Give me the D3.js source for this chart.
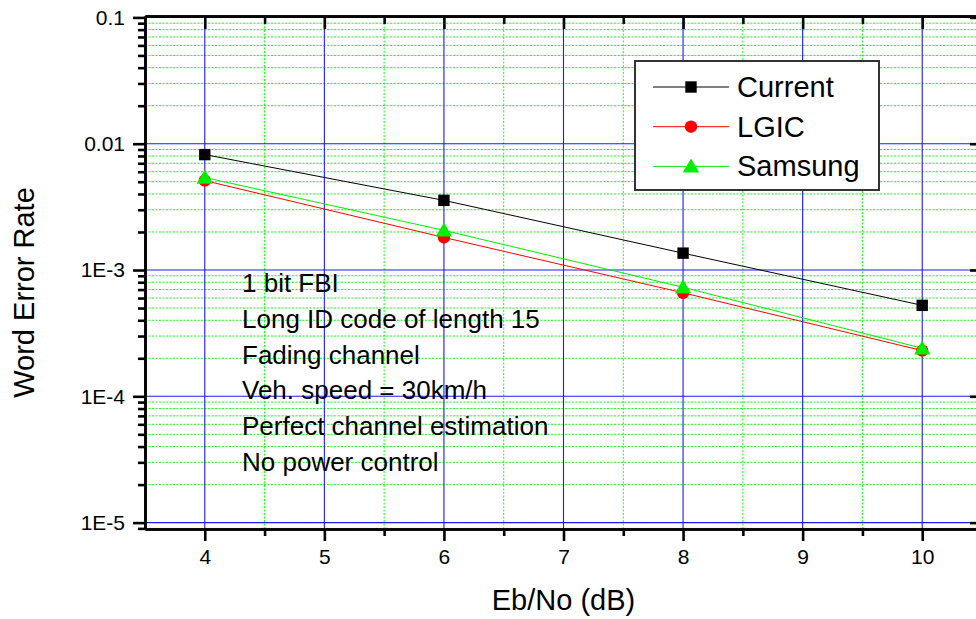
<!DOCTYPE html>
<html>
<head>
<meta charset="utf-8">
<script src="https://cdn.jsdelivr.net/npm/d3@7"></script>
<style>
  body { margin: 0; background: #fff; }
  svg { display: block; font-family: 'Liberation Sans', Arial, sans-serif; }
</style>
</head>
<body>
<svg id="chart" width="976" height="619"></svg>
<script>
// data
const ebno = [4, 6, 8, 10]
const current = [8.2e-3, 3.56e-3, 1.36e-3, 5.25e-4]
const lgic = [5.1e-3, 1.81e-3, 6.6e-4, 2.3e-4]
const samsung = [5.4e-3, 2.06e-3, 7.3e-4, 2.4e-4]
const seriesNames = ['Current', 'LGIC', 'Samsung']
const xTicks = [4, 5, 6, 7, 8, 9, 10]
const xMinorTicks = [4.5, 5.5, 6.5, 7.5, 8.5, 9.5]
const yTicks = [1e-1, 1e-2, 1e-3, 1e-4, 1e-5]
const yTickLabels = ['0.1', '0.01', '1E-3', '1E-4', '1E-5']
const notes = ['1 bit FBI', 'Long ID code of length 15', 'Fading channel',
  'Veh. speed = 30km/h', 'Perfect channel estimation', 'No power control']

const svg = d3.select('#chart')
const plotLeft = 145
const plotRight = 982
const plotTop = 16
const plotBottom = 529

const x = d3.scaleLinear().domain([3.5, 10.5]).range([plotLeft, plotRight])
const y = d3.scaleLog().domain([8.9e-6, 0.1026]).range([plotBottom, plotTop])

// minor log ticks 2..9 per decade
let yMinor = []
for (let e = -6; e <= -1; e++) {
  for (let k = 2; k <= 9; k++) {
    let v = k * Math.pow(10, e)
    if (v > y.domain()[0] && v < y.domain()[1]) yMinor.push(v)
  }
}

svg.append('defs').append('clipPath').attr('id', 'clip')
  .append('rect')
  .attr('x', plotLeft).attr('y', plotTop)
  .attr('width', plotRight - plotLeft).attr('height', plotBottom - plotTop)

const grid = svg.append('g').attr('clip-path', 'url(#clip)')
grid.selectAll('.hminor').data(yMinor).enter().append('line')
  .attr('x1', plotLeft).attr('x2', plotRight)
  .attr('y1', d => y(d)).attr('y2', d => y(d))
  .attr('stroke', '#11ff11').attr('stroke-width', 1)
  .attr('stroke-dasharray', '2,1.5')
grid.selectAll('.vminor').data(xMinorTicks).enter().append('line')
  .attr('x1', d => x(d)).attr('x2', d => x(d))
  .attr('y1', plotTop).attr('y2', plotBottom)
  .attr('stroke', '#11ff11').attr('stroke-width', 1)
  .attr('stroke-dasharray', '2,1.5')
grid.selectAll('.hmajor').data(yTicks).enter().append('line')
  .attr('x1', plotLeft).attr('x2', plotRight)
  .attr('y1', d => y(d)).attr('y2', d => y(d))
  .attr('stroke', '#1a1aff').attr('stroke-width', 1.1)
grid.selectAll('.vmajor').data(xTicks).enter().append('line')
  .attr('x1', d => x(d)).attr('x2', d => x(d))
  .attr('y1', plotTop).attr('y2', plotBottom)
  .attr('stroke', '#1a1aff').attr('stroke-width', 1.1)

// series
const series = [
  { name: seriesNames[0], values: current, color: '#000000', shape: 'square' },
  { name: seriesNames[1], values: lgic, color: '#ff0000', shape: 'circle' },
  { name: seriesNames[2], values: samsung, color: '#00ee00', shape: 'triangle' }
]
const symbolOf = {
  square: d3.symbol().type(d3.symbolSquare).size(130),
  circle: d3.symbol().type(d3.symbolCircle).size(120),
  triangle: d3.symbol().type(d3.symbolTriangle).size(115)
}
const line = d3.line().x(d => x(d[0])).y(d => y(d[1]))

series.forEach(s => {
  let pts = ebno.map((v, i) => [v, s.values[i]])
  svg.append('path')
    .datum(pts)
    .attr('d', line)
    .attr('fill', 'none')
    .attr('stroke', s.color)
    .attr('stroke-width', 1)
  svg.selectAll('.m-' + s.shape).data(pts).enter().append('path')
    .attr('class', 'm-' + s.shape)
    .attr('d', symbolOf[s.shape])
    .attr('transform', d => 'translate(' + x(d[0]) + ',' + (y(d[1]) + (s.shape === 'triangle' ? 1.5 : 0)) + ')')
    .attr('fill', s.color)
})

// axes
const styleAxis = g => {
  g.select('.domain').attr('stroke', '#000').attr('stroke-width', 2.6)
  g.selectAll('.tick line').attr('stroke', '#000').attr('stroke-width', 2.6)
  g.selectAll('.tick text').attr('fill', '#000').style('font-size', '21px')
}
svg.append('g').attr('transform', 'translate(0,' + plotBottom + ')')
  .call(d3.axisBottom(x).tickValues(xTicks).tickSize(12).tickSizeOuter(0).tickPadding(8).tickFormat(d3.format('d')))
  .call(styleAxis)
svg.append('g').attr('transform', 'translate(0,' + plotBottom + ')')
  .call(d3.axisBottom(x).tickValues(xMinorTicks).tickSize(7).tickSizeOuter(0).tickFormat(''))
  .call(styleAxis)
svg.append('g').attr('transform', 'translate(0,' + plotTop + ')')
  .call(d3.axisTop(x).tickValues(xTicks).tickSize(-13).tickSizeOuter(0).tickFormat(''))
  .call(styleAxis)
svg.append('g').attr('transform', 'translate(0,' + plotTop + ')')
  .call(d3.axisTop(x).tickValues(xMinorTicks).tickSize(-8).tickSizeOuter(0).tickFormat(''))
  .call(styleAxis)
svg.append('g').attr('transform', 'translate(' + plotLeft + ',0)')
  .call(d3.axisLeft(y).tickValues(yTicks).tickSize(12).tickSizeOuter(0).tickPadding(8)
    .tickFormat((d, i) => yTickLabels[i]))
  .call(styleAxis)
svg.append('g').attr('transform', 'translate(' + plotLeft + ',0)')
  .call(d3.axisLeft(y).tickValues(yMinor).tickSize(7).tickSizeOuter(0).tickFormat(''))
  .call(styleAxis)
svg.append('g').attr('transform', 'translate(' + plotRight + ',0)')
  .call(d3.axisRight(y).tickValues(yTicks).tickSize(-12).tickSizeOuter(0).tickFormat(''))
  .call(styleAxis)

// axis titles
svg.append('text')
  .attr('x', x(7))
  .attr('y', 600)
  .attr('text-anchor', 'middle')
  .attr('dominant-baseline', 'central')
  .style('font-size', '29px')
  .text('Eb/No (dB)')
svg.append('text')
  .attr('transform', 'translate(24,' + ((plotTop + plotBottom) / 2 + 20) + ') rotate(-90)')
  .attr('text-anchor', 'middle')
  .attr('dominant-baseline', 'central')
  .style('font-size', '29px')
  .text('Word Error Rate')

// annotation block
svg.append('g').selectAll('text').data(notes).enter().append('text')
  .attr('x', 242)
  .attr('y', (d, i) => 283 + i * 35.8)
  .attr('dominant-baseline', 'central')
  .style('font-size', '26px')
  .text(d => d)

// legend
const legend = svg.append('g').attr('transform', 'translate(635,61)')
legend.append('rect')
  .attr('width', 244).attr('height', 129)
  .attr('fill', '#fff').attr('stroke', '#333').attr('stroke-width', 2)
series.forEach((s, i) => {
  let ly = 26 + i * 39.7
  legend.append('line')
    .attr('x1', 18).attr('x2', 94).attr('y1', ly).attr('y2', ly)
    .attr('stroke', s.color).attr('stroke-width', 1)
  legend.append('path')
    .attr('d', symbolOf[s.shape])
    .attr('transform', 'translate(56,' + (ly + (s.shape === 'triangle' ? 1.5 : 0)) + ')')
    .attr('fill', s.color)
  legend.append('text')
    .attr('x', 102).attr('y', ly)
    .attr('dominant-baseline', 'central')
    .style('font-size', '29px')
    .text(s.name)
})
</script>
</body>
</html>
